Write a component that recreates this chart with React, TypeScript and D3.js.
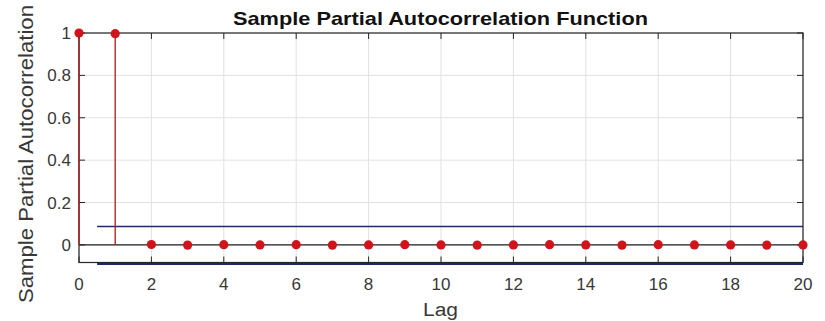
import React from "react";
import * as d3 from "d3";

const lags = d3.range(0, 21);
const pacf = [1, 0.997, 0.002, -0.001, 0.001, 0.0, 0.001, -0.001, 0.0, 0.001, 0.0, -0.001, 0.0, 0.001, 0.0, -0.001, 0.001, 0.0, 0.0, -0.001, 0.0];
const bound = 0.087;
const xTicks = [0, 2, 4, 6, 8, 10, 12, 14, 16, 18, 20];
const yTicks = [0, 0.2, 0.4, 0.6, 0.8, 1];

const W = 825;
const H = 321;
const left = 79;
const right = 803;
const top = 33;
const bottom = 262.5;

export default function App() {
  const x = d3.scaleLinear().domain([0, 20]).range([left, right]);
  const y = d3.scaleLinear().domain([-0.083, 1]).range([bottom, top]);
  const font = "'Liberation Sans', Arial, Helvetica, sans-serif";
  const red = "#d0141c";
  const stem = "#b01818";
  const navy = "#1f2a6b";
  const tickLen = 6;

  return (
    <svg width={W} height={H} style={{ position: "absolute", left: 0, top: 0, background: "#fff" }} fontFamily={font}>
      <rect x={left} y={top} width={right - left} height={bottom - top} fill="#fff" />
      {/* grid */}
      {xTicks.map((t) => (
        <line key={"gx" + t} x1={x(t)} x2={x(t)} y1={top} y2={bottom} stroke="#e2e2e2" strokeWidth={1} />
      ))}
      {yTicks.map((t) => (
        <line key={"gy" + t} x1={left} x2={right} y1={y(t)} y2={y(t)} stroke="#e2e2e2" strokeWidth={1} />
      ))}
      {/* confidence bounds */}
      <line x1={x(0.5)} x2={x(20)} y1={y(bound)} y2={y(bound)} stroke={navy} strokeWidth={1.3} />
      <line x1={x(0.5)} x2={x(20)} y1={y(-bound) + 0.6} y2={y(-bound) + 0.6} stroke={navy} strokeWidth={2} />
      {/* zero line */}
      <line x1={left} x2={right} y1={y(0)} y2={y(0)} stroke="#222" strokeWidth={1.3} />
      {/* axes box */}
      <rect x={left} y={top} width={right - left} height={bottom - top} fill="none" stroke="#262626" strokeWidth={1.2} />
      {xTicks.map((t) => (
        <g key={"tx" + t}>
          <line x1={x(t)} x2={x(t)} y1={bottom} y2={bottom - tickLen} stroke="#262626" strokeWidth={1} />
          <line x1={x(t)} x2={x(t)} y1={top} y2={top + tickLen} stroke="#262626" strokeWidth={1} />
          <text x={x(t)} y={290} textAnchor="middle" fontSize={17} fill="#383838">{t}</text>
        </g>
      ))}
      {yTicks.map((t) => (
        <g key={"ty" + t}>
          <line x1={left} x2={left + tickLen} y1={y(t)} y2={y(t)} stroke="#262626" strokeWidth={1} />
          <line x1={right} x2={right - tickLen} y1={y(t)} y2={y(t)} stroke="#262626" strokeWidth={1} />
          <text x={left - 8} y={y(t) + 6} textAnchor="end" fontSize={17} fill="#383838">{t}</text>
        </g>
      ))}
      {/* stems and markers */}
      {lags.map((l, i) => (
        <line key={"s" + l} x1={x(l)} x2={x(l)} y1={y(0)} y2={y(pacf[i])} stroke={stem} strokeWidth={1.3} />
      ))}
      {lags.map((l, i) => (
        <circle key={"m" + l} cx={x(l)} cy={y(pacf[i])} r={4.6} fill={red} />
      ))}
      {/* labels */}
      <text x={440.5} y={25} textAnchor="middle" fontSize={19} fontWeight="bold" fill="#111" textLength={415} lengthAdjust="spacingAndGlyphs">
        Sample Partial Autocorrelation Function
      </text>
      <text x={440.5} y={316} textAnchor="middle" fontSize={18} fill="#383838" textLength={35} lengthAdjust="spacingAndGlyphs">Lag</text>
      <text transform={`translate(33,154) rotate(-90)`} textAnchor="middle" fontSize={20} fill="#383838" textLength={298} lengthAdjust="spacingAndGlyphs">
        Sample Partial Autocorrelation
      </text>
    </svg>
  );
}
